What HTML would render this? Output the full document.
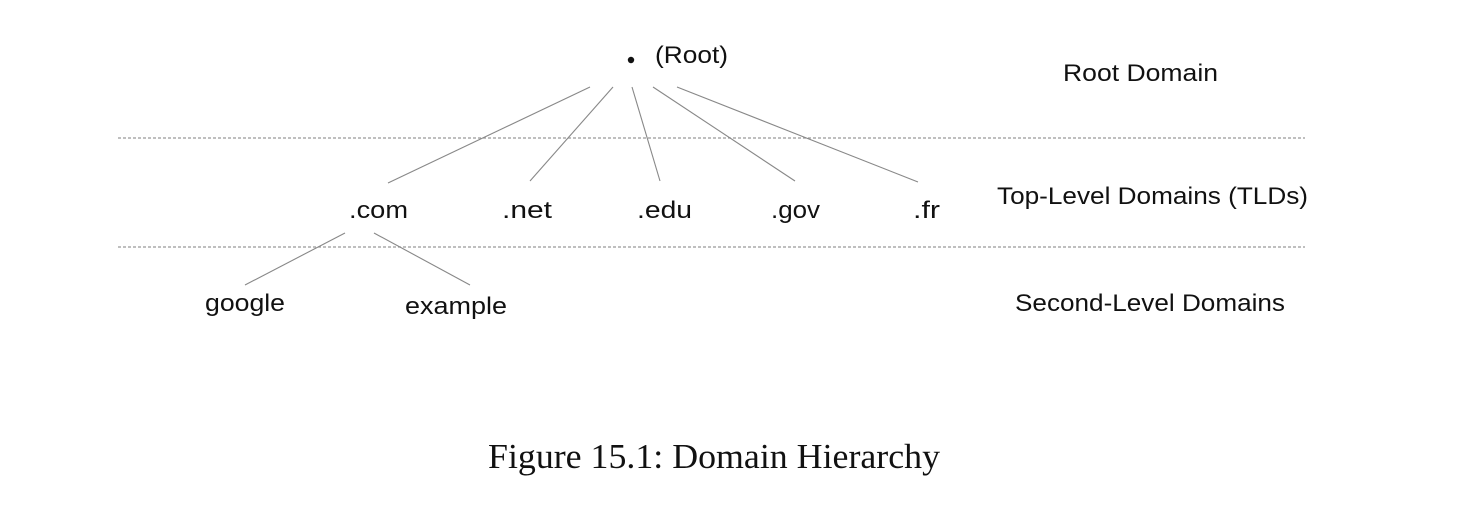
<!DOCTYPE html>
<html><head><meta charset="utf-8"><style>
html,body{margin:0;padding:0;background:#fff;}
svg{display:block;}
.t{font-family:"Liberation Sans",sans-serif;font-size:24px;fill:#111;}
.cap{font-family:"Liberation Serif",serif;font-size:35px;fill:#111;}
</style></head><body>
<svg width="1480" height="508" viewBox="0 0 1480 508">
<g stroke="#999" stroke-width="1.2" stroke-dasharray="3,2">
<line x1="118" y1="138" x2="1305" y2="138"/>
<line x1="118" y1="247" x2="1305" y2="247"/>
</g>
<g stroke="#888" stroke-width="1.1">
<line x1="590" y1="87" x2="388" y2="183"/>
<line x1="613" y1="87" x2="530" y2="181"/>
<line x1="632" y1="87" x2="660" y2="181"/>
<line x1="653" y1="87" x2="795" y2="181"/>
<line x1="677" y1="87" x2="918" y2="182"/>
<line x1="345" y1="233" x2="245" y2="285"/>
<line x1="374" y1="233" x2="470" y2="285"/>
</g>
<circle cx="631" cy="60" r="3.2" fill="#111"/>
<text class="t" x="655" y="63" textLength="73" lengthAdjust="spacingAndGlyphs">(Root)</text>
<text class="t" x="349" y="218" textLength="59" lengthAdjust="spacingAndGlyphs">.com</text>
<text class="t" x="502" y="218" textLength="50" lengthAdjust="spacingAndGlyphs">.net</text>
<text class="t" x="637" y="218" textLength="55" lengthAdjust="spacingAndGlyphs">.edu</text>
<text class="t" x="771" y="218" textLength="49" lengthAdjust="spacingAndGlyphs">.gov</text>
<text class="t" x="913" y="218" textLength="27" lengthAdjust="spacingAndGlyphs">.fr</text>
<text class="t" x="205" y="311" textLength="80" lengthAdjust="spacingAndGlyphs">google</text>
<text class="t" x="405" y="314" textLength="102" lengthAdjust="spacingAndGlyphs">example</text>
<text class="t" x="1063" y="81" textLength="155" lengthAdjust="spacingAndGlyphs">Root Domain</text>
<text class="t" x="997" y="204" textLength="311" lengthAdjust="spacingAndGlyphs">Top-Level Domains (TLDs)</text>
<text class="t" x="1015" y="311" textLength="270" lengthAdjust="spacingAndGlyphs">Second-Level Domains</text>
<text class="cap" x="488" y="468" textLength="452" lengthAdjust="spacingAndGlyphs">Figure 15.1: Domain Hierarchy</text>
</svg>
</body></html>
